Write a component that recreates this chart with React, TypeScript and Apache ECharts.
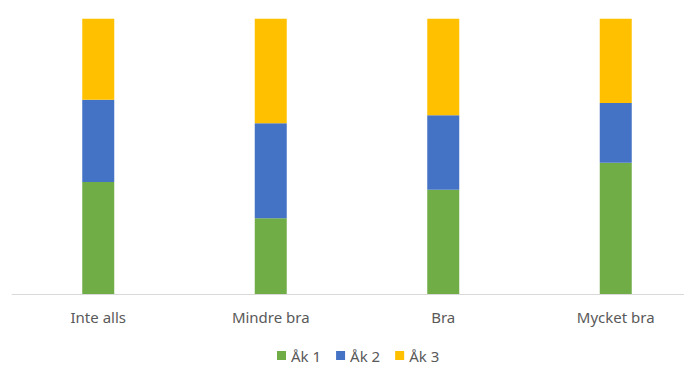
import React, { useEffect, useRef } from "react";
import * as echarts from "echarts";

const categories = ["Inte alls", "Mindre bra", "Bra", "Mycket bra"];
const seriesNames = ["Åk 1", "Åk 2", "Åk 3"];
const ak1 = [40.7, 27.5, 37.9, 47.7];
const ak2 = [29.9, 34.5, 27.0, 21.7];
const ak3 = [29.4, 38.0, 35.1, 30.6];
const colors = ["#70AD47", "#4472C4", "#FFC000"];

export default function App() {
  const ref = useRef<HTMLDivElement>(null);
  useEffect(() => {
    document.body.style.overflow = "hidden";
    if (!ref.current) return;
    const chart = echarts.init(ref.current, undefined, { renderer: "svg" });
    const data = [ak1, ak2, ak3];
    chart.setOption({
      animation: false,
      color: colors,
      textStyle: { fontFamily: "Noto Sans" },
      grid: { left: 12, right: 0, top: 18.7, bottom: 76, containLabel: false },
      legend: {
        data: seriesNames,
        top: 343,
        left: 272,
        icon: "rect",
        itemWidth: 9,
        itemHeight: 9,
        itemGap: 15,
        textStyle: { color: "#595959", fontSize: 15, fontFamily: "Noto Sans" },
      },
      xAxis: {
        type: "category",
        data: categories,
        axisLine: { lineStyle: { color: "#D9D9D9", width: 1 } },
        axisTick: { show: false },
        axisLabel: { color: "#595959", fontSize: 15, margin: 15, fontFamily: "Noto Sans" },
      },
      yAxis: {
        type: "value",
        min: 0,
        max: 100,
        show: false,
        splitLine: { show: false },
      },
      series: seriesNames.map((name, i) => ({
        name,
        type: "bar",
        stack: "total",
        barWidth: 32,
        data: data[i],
        itemStyle: { color: colors[i] },
      })),
    });
    return () => chart.dispose();
  }, []);
  return (
    <div
      ref={ref}
      style={{ position: "fixed", left: 0, top: 0, width: 702, height: 370, background: "#fff" }}
    />
  );
}
